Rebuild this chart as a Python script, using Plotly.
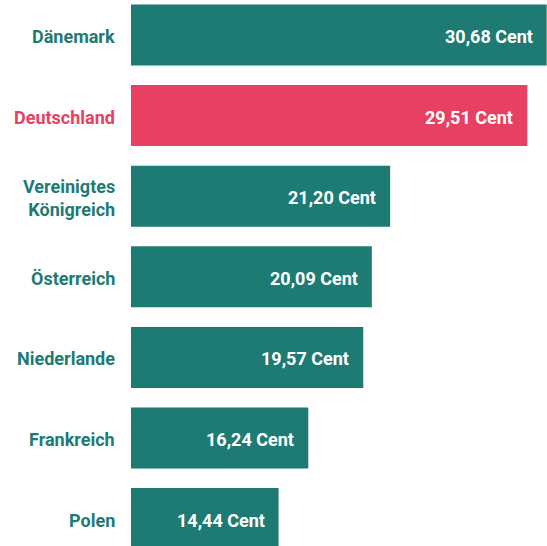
import plotly.graph_objects as go

countries = ["Dänemark", "Deutschland", "Vereinigtes<br>Königreich", "Österreich",
             "Niederlande", "Frankreich", "Polen"]
values = [30.68, 29.51, 21.20, 20.09, 19.57, 16.24, 14.44]
value_labels = ["30,68 Cent", "29,51 Cent", "21,20 Cent", "20,09 Cent",
                "19,57 Cent", "16,24 Cent", "14,44 Cent"]
highlight = "Deutschland"

TEAL = "#1e7b74"
RED = "#e84063"
FONT = "Roboto, Liberation Sans Narrow, sans-serif"

colors = [RED if c == highlight else TEAL for c in countries]
pos = list(range(len(countries)))

fig = go.Figure(go.Bar(
    x=values, y=pos, orientation="h",
    marker=dict(color=colors, line=dict(width=0)),
    width=0.757, hoverinfo="skip",
))

ann = []
for i, (c, v, t, col) in enumerate(zip(countries, values, value_labels, colors)):
    ann.append(dict(x=0, xref="paper", y=i, yref="y", text="<b>%s</b>" % c,
                    xanchor="right", yanchor="middle", xshift=-14, yshift=-1.5,
                    showarrow=False, align="right",
                    font=dict(family=FONT, size=18, color=col)))
    ann.append(dict(x=v, xref="x", y=i, yref="y", text="<b>%s</b>" % t,
                    xanchor="right", yanchor="middle", xshift=-12, yshift=-1.5,
                    showarrow=False,
                    font=dict(family=FONT, size=18, color="white")))

fig.update_layout(
    width=547, height=546,
    margin=dict(l=131, r=0, t=0, b=0),
    paper_bgcolor="white", plot_bgcolor="white",
    showlegend=False,
    xaxis=dict(range=[5.5, 30.70], visible=False, fixedrange=True),
    yaxis=dict(range=[6.34, -0.434], visible=False, fixedrange=True),
    annotations=ann,
)

fig.write_html("out.html", config={"displayModeBar": False},
               post_script="document.body.style.margin='0px';document.body.style.overflow='hidden';")
